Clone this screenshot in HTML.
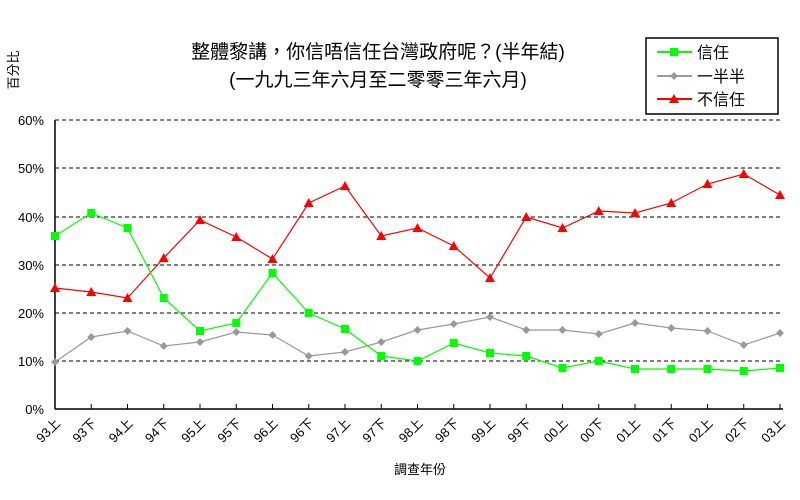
<!DOCTYPE html>
<html><head><meta charset="utf-8"><style>body{margin:0;background:#fff}svg{display:block}</style></head><body>
<svg width="800" height="500" xmlns="http://www.w3.org/2000/svg" font-family="Liberation Sans, Noto Sans CJK TC, sans-serif">
<rect width="800" height="500" fill="#fff"/>
<text x="378" y="58" font-size="19" text-anchor="middle">整體黎講，你信唔信任台灣政府呢？(半年結)</text>
<text x="378" y="86" font-size="19" text-anchor="middle">(一九九三年六月至二零零三年六月)</text>
<text transform="translate(18,70) rotate(-90)" font-size="13" text-anchor="middle">百分比</text>
<rect x="646" y="38" width="132" height="76" fill="#fff" stroke="#000" stroke-width="1.5"/>
<g stroke-width="2"><line x1="657" y1="52" x2="692" y2="52" stroke="#0f0"/><line x1="657" y1="76" x2="692" y2="76" stroke="#999"/><line x1="657" y1="99" x2="692" y2="99" stroke="#f00"/></g>
<rect x="670" y="48" width="8" height="8" fill="#0f0"/>
<polygon points="674,72 678,76 674,80 670,76" fill="#999"/>
<polygon points="674,94 679,103 669,103" fill="#f00"/>
<g font-size="16"><text x="697" y="58">信任</text><text x="697" y="82">一半半</text><text x="697" y="105">不信任</text></g>
<g stroke="#000" stroke-dasharray="4,3" stroke-width="1"><line x1="55" y1="120" x2="783" y2="120"/><line x1="55" y1="168" x2="783" y2="168"/><line x1="55" y1="217" x2="783" y2="217"/><line x1="55" y1="265" x2="783" y2="265"/><line x1="55" y1="313" x2="783" y2="313"/><line x1="55" y1="361" x2="783" y2="361"/></g>
<g font-size="13" text-anchor="end"><text x="44" y="125">60%</text><text x="44" y="173">50%</text><text x="44" y="222">40%</text><text x="44" y="270">30%</text><text x="44" y="318">20%</text><text x="44" y="366">10%</text><text x="44" y="414">0%</text></g>
<line x1="55" y1="120" x2="55" y2="409" stroke="#000" stroke-width="1.5"/>
<line x1="55" y1="409" x2="783" y2="409" stroke="#000" stroke-width="1.5"/>
<g id="ax"></g>
<text x="420" y="474" font-size="13" text-anchor="middle">調查年份</text>
<g id="plot"></g>
<script>
var labels=["93上","93下","94上","94下","95上","95下","96上","96下","97上","97下","98上","98下","99上","99下","00上","00下","01上","01下","02上","02下","03上"];
var g=[236,213,228,298,331,323,273,313,329,356,361,343,353,356,368,361,369,369,369,371,368];
var s=[362,337,331,346,342,332,335,356,352,342,330,324,317,330,330,334,323,328,331,345,333];
var r=[288,292,298,258,220,237,259,203,186,236,228,246,278,217,228,211,213,203,184,174,195];
var ns="http://www.w3.org/2000/svg",ax=document.getElementById("ax"),pl=document.getElementById("plot");
function el(t,a,p){var e=document.createElementNS(ns,t);for(var k in a)e.setAttribute(k,a[k]);(p||pl).appendChild(e);return e;}
function X(i){return 55+i*36.25;}
for(var i=0;i<21;i++){var x=X(i);if(i>0)el("line",{x1:x,y1:404,x2:x,y2:409,stroke:"#000"},ax);
var t=el("text",{transform:"translate("+(x+6)+",424) rotate(-45)","font-size":"13","text-anchor":"end"},ax);t.textContent=labels[i];}
function line(d,c){el("polyline",{points:d.map(function(y,i){return X(i)+","+y}).join(" "),fill:"none",stroke:c,"stroke-width":"1.2"});}
line(s,"#999");line(r,"#f00");line(g,"#0f0");
s.forEach(function(y,i){var x=X(i);el("polygon",{points:x+","+(y-4)+" "+(x+4)+","+y+" "+x+","+(y+4)+" "+(x-4)+","+y,fill:"#999"});});
r.forEach(function(y,i){var x=X(i);el("polygon",{points:x+","+(y-5)+" "+(x+5)+","+(y+4)+" "+(x-5)+","+(y+4),fill:"#f00"});});
g.forEach(function(y,i){var x=X(i);el("rect",{x:x-4,y:y-4,width:8,height:8,fill:"#0f0"});});
</script>
</svg>
</body></html>
